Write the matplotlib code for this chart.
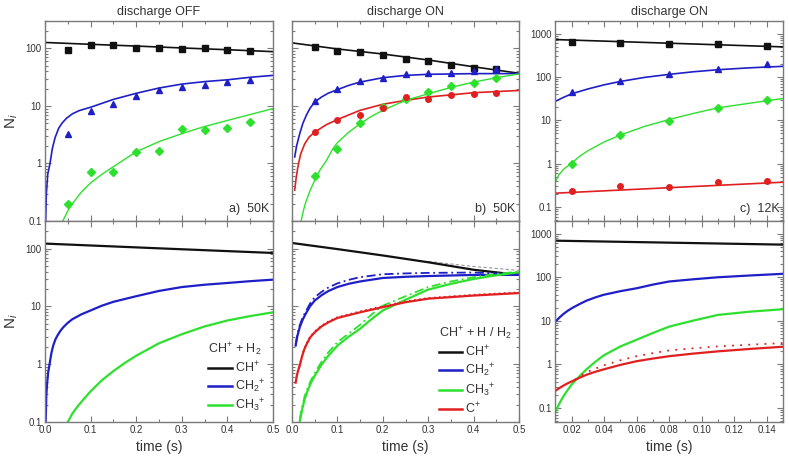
import matplotlib
matplotlib.use("Agg")
import matplotlib.pyplot as plt
from matplotlib.ticker import FixedLocator, LogLocator, MultipleLocator, FuncFormatter, NullFormatter
from matplotlib.lines import Line2D

plt.rcParams["font.family"] = ["Liberation Sans", "DejaVu Sans"]
plt.rcParams["mathtext.fontset"] = "custom"
plt.rcParams["mathtext.rm"] = "Liberation Sans"
plt.rcParams["mathtext.it"] = "Liberation Sans:italic"

BLACK = "#111111"
BLUE = "#1f1fc8"
GREEN = "#2ee02e"
RED = "#e02020"
SPINE = "#7a7a7a"
TXT = "#333333"

# ---------------------------------------------------------------- data
# a) discharge OFF, 50K  (measured points + fit)
t_pts_a = [0.05, 0.10, 0.15, 0.20, 0.25, 0.30, 0.35, 0.40, 0.45]
ch_pts_a = [93, 114, 114, 103, 102, 99, 100, 94, 90]
ch2_pts_a = [3.2, 8.1, 11, 14.9, 18.7, 21.3, 22.9, 26, 28.5]
ch3_pts_a = [0.2, 0.70, 0.70, 1.57, 1.66, 3.94, 3.8, 4.15, 5.3]

t_ch_fit_a = [0.0, 0.1, 0.2, 0.3, 0.4, 0.5]
ch_fit_a = [127, 118, 110, 102, 95, 88]
t_ch2_fit_a = [0.0015, 0.003, 0.006, 0.011, 0.016, 0.022, 0.03, 0.038, 0.047, 0.06,
               0.075, 0.1, 0.15, 0.2, 0.25, 0.3, 0.35, 0.4, 0.45, 0.5]
ch2_fit_a = [0.1, 0.3, 0.65, 1.0, 1.8, 2.8, 4.1, 5.1, 6.1, 7.3,
             8.3, 9.5, 13, 16.6, 20.5, 24, 26.5, 28.5, 31.5, 34]
t_ch3_fit_a = [0.039, 0.05, 0.06, 0.08, 0.1, 0.125, 0.15, 0.2, 0.25, 0.3, 0.35, 0.4, 0.45, 0.5]
ch3_fit_a = [0.1, 0.15, 0.2, 0.32, 0.46, 0.65, 0.88, 1.6, 2.4, 3.3, 4.4, 5.6, 7.1, 9.0]

# b) discharge ON, 50K
t_pts_b = [0.05, 0.10, 0.15, 0.20, 0.25, 0.30, 0.35, 0.40, 0.45]
ch_pts_b = [107, 91, 87.5, 76.6, 66, 61, 51.5, 46.2, 43.8]
ch2_pts_b = [12.4, 19.7, 27, 31, 35.8, 37.3, 36.8, 40, 44]
ch3_pts_b = [0.61, 1.82, 5.1, 9.5, 13, 17.5, 21.8, 25, 31]
c_pts_b = [3.5, 5.6, 7.1, 9.2, 14.3, 13.3, 15.3, 16.3, 17]

t_ch_fit_b = [0.0, 0.1, 0.2, 0.3, 0.4, 0.5]
ch_fit_b = [125, 98, 80, 63, 48, 37]
t_ch2_fit_b = [0.006, 0.01, 0.017, 0.024, 0.032, 0.04, 0.05, 0.065, 0.08, 0.1,
               0.125, 0.15, 0.2, 0.25, 0.3, 0.4, 0.5]
ch2_fit_b = [1.3, 2.0, 3.3, 5.0, 7.0, 9.2, 11.7, 14.3, 16.7, 19.2,
             22.8, 26, 31, 34, 35.5, 36.5, 36.5]
t_ch3_fit_b = [0.02, 0.025, 0.03, 0.04, 0.05, 0.062, 0.075, 0.09, 0.1, 0.125, 0.15,
               0.175, 0.2, 0.25, 0.3, 0.35, 0.4, 0.45, 0.5]
ch3_fit_b = [0.1, 0.15, 0.21, 0.34, 0.51, 0.78, 1.1, 1.8, 2.3, 3.5, 4.9,
             6.6, 8.4, 12.5, 16.3, 21, 26, 31, 36]
t_c_fit_b = [0.006, 0.009, 0.013, 0.019, 0.028, 0.038, 0.05, 0.075, 0.1, 0.15, 0.2,
             0.25, 0.3, 0.4, 0.5]
c_fit_b = [0.345, 0.55, 0.875, 1.45, 2.2, 2.9, 3.5, 4.7, 5.8, 8.4, 10.7,
           12.5, 14.3, 17, 18.6]

# c) discharge ON, 12K
t_pts_c = [0.02, 0.05, 0.08, 0.11, 0.14]
ch_pts_c = [643, 610, 589, 570, 512]
ch2_pts_c = [45, 79, 119, 150, 195]
ch3_pts_c = [1.0, 4.6, 9.5, 19.5, 30]
c_pts_c = [0.23, 0.30, 0.29, 0.39, 0.40]

t_ch_fit_c = [0.01, 0.08, 0.15]
ch_fit_c = [728, 600, 494]
t_ch2_fit_c = [0.01, 0.015, 0.02, 0.03, 0.04, 0.05, 0.065, 0.08, 0.095, 0.11, 0.13, 0.15]
ch2_fit_c = [27.6, 34, 41, 53, 66, 79, 98, 115, 132, 147, 163, 176]
t_ch3_fit_c = [0.01, 0.012, 0.015, 0.02, 0.025, 0.03, 0.04, 0.05, 0.065, 0.08,
               0.095, 0.11, 0.13, 0.15]
ch3_fit_c = [0.39, 0.55, 0.75, 1.04, 1.5, 2.0, 3.2, 4.6, 7.3, 10.5,
             14.5, 19.5, 25, 32]
t_c_fit_c = [0.01, 0.15]
c_fit_c = [0.21, 0.376]

# model curves, CH+ + H2 (bottom a)
t_ch_mod_a = [0.0, 0.25, 0.5]
ch_mod_a = [122, 101, 84]
t_ch2_mod_a = [0.0015, 0.003, 0.005, 0.007, 0.01, 0.014, 0.018, 0.023, 0.028, 0.034, 0.04,
               0.05, 0.06, 0.08, 0.1, 0.125, 0.15, 0.2, 0.25, 0.3, 0.35, 0.4, 0.45, 0.5]
ch2_mod_a = [0.1, 0.3, 0.5, 0.72, 1.0, 1.55, 2.1, 2.7, 3.2, 3.8, 4.35,
             5.2, 6.0, 7.3, 8.5, 10.3, 12, 15, 18.5, 21.6, 23.7, 25.4, 27.3, 29]
t_ch3_mod_a = [0.05, 0.06, 0.07, 0.085, 0.1, 0.125, 0.15, 0.175, 0.2, 0.25, 0.3, 0.35, 0.4,
               0.45, 0.5]
ch3_mod_a = [0.1, 0.14, 0.18, 0.25, 0.34, 0.53, 0.76, 1.05, 1.4, 2.3, 3.3, 4.5, 5.7,
             6.8, 7.9]

# model curves, CH+ + H / H2 (bottom b)
t_ch_mod_b = [0.0, 0.1, 0.2, 0.3, 0.4, 0.5]
ch_mod_b = [125, 98, 76, 58, 43, 35]
t_ch_alt_b = [0.3, 0.4, 0.5]
ch_alt_b = [60, 49, 42]
t_ch2_mod_b = [0.008, 0.012, 0.017, 0.024, 0.032, 0.04, 0.05, 0.065, 0.08, 0.1,
               0.125, 0.15, 0.2, 0.25, 0.3, 0.4, 0.5]
ch2_mod_b = [2.1, 3.1, 4.35, 6.0, 7.9, 10.1, 12.6, 15.6, 18.4, 21.6,
             24.6, 27, 31, 32.5, 33.5, 35, 35]
ch2_alt_b = [2.2, 3.3, 4.7, 6.6, 8.6, 11.3, 14.4, 17.8, 21.2, 25,
             28.8, 32, 36, 37.2, 38, 38.5, 36]
t_ch3_mod_b = [0.017, 0.022, 0.028, 0.035, 0.042, 0.05, 0.065, 0.08, 0.1, 0.125, 0.15,
               0.175, 0.2, 0.25, 0.3, 0.35, 0.4, 0.45, 0.5]
ch3_mod_b = [0.1, 0.16, 0.25, 0.36, 0.48, 0.63, 0.98, 1.4, 2.09, 3.0, 4.1,
             6.0, 8.5, 13, 19.5, 24.5, 29.8, 34.5, 39]
ch3_alt_b = [0.11, 0.18, 0.28, 0.4, 0.53, 0.7, 1.1, 1.6, 2.4, 3.4, 4.8,
             7.2, 10.3, 15, 21.6, 27, 32, 36.5, 40]
t_c_mod_b = [0.008, 0.011, 0.014, 0.017, 0.022, 0.027, 0.032, 0.04, 0.05, 0.065, 0.08, 0.1,
             0.15, 0.2, 0.25, 0.3, 0.4, 0.5]
c_mod_b = [0.48, 0.65, 0.8, 0.94, 1.35, 1.8, 2.2, 2.9, 3.56, 4.5, 5.3, 6.3,
           7.9, 9.7, 11.8, 13.6, 15.4, 17]
c_alt_b = [0.5, 0.68, 0.84, 0.98, 1.4, 1.88, 2.3, 3.0, 3.7, 4.65, 5.5, 6.5,
           8.2, 10.1, 12.2, 14.0, 15.9, 17.5]

# model curves, 12K (bottom c)
t_ch_mod_c = [0.01, 0.15]
ch_mod_c = [690, 560]
t_mod_c = [0.01, 0.0125, 0.015, 0.0175, 0.02, 0.025, 0.029, 0.0345, 0.0395, 0.05, 0.06, 0.07,
           0.08, 0.095, 0.11, 0.13, 0.15]
ch2_mod_c = [9.65, 12, 14.5, 17, 19.5, 24.5, 29, 34.5, 39.5, 48, 56, 68,
             80, 90, 100, 110, 120]
ch3_mod_c = [0.084, 0.13, 0.19, 0.26, 0.35, 0.55, 0.77, 1.15, 1.6, 2.6, 3.7, 5.3,
             7.4, 10.2, 13.7, 16.3, 18.5]
c_mod_c = [0.25, 0.29, 0.33, 0.37, 0.41, 0.5, 0.58, 0.68, 0.77, 0.98, 1.19, 1.37,
           1.55, 1.78, 2.0, 2.28, 2.55]
t_c_alt_c = [0.022, 0.029, 0.0395, 0.05, 0.06, 0.07, 0.08, 0.095, 0.11, 0.13, 0.15]
c_alt_c = [0.45, 0.66, 0.95, 1.25, 1.55, 1.82, 2.1, 2.35, 2.6, 2.85, 3.1]

TITLES = ["discharge OFF", "discharge ON", "discharge ON"]
PANEL_TAGS = ["a)  50K", "b)  50K", "c)  12K"]


# ---------------------------------------------------------------- helpers
def _fmt(v, pos):
    return f"{v:g}"


def _style(ax, xlim, ylim, x_major, x_minor, y_majors, show_x, show_y, xfmt):
    ax.set_yscale("log")
    ax.set_xlim(*xlim)
    ax.set_ylim(*ylim)
    ax.xaxis.set_major_locator(MultipleLocator(x_major))
    ax.xaxis.set_minor_locator(MultipleLocator(x_minor))
    ax.yaxis.set_major_locator(FixedLocator(y_majors))
    ax.yaxis.set_minor_locator(LogLocator(base=10, subs=range(2, 10)))
    ax.yaxis.set_minor_formatter(NullFormatter())
    ax.yaxis.set_major_formatter(FuncFormatter(_fmt) if show_y else NullFormatter())
    ax.xaxis.set_major_formatter(FuncFormatter(xfmt) if show_x else NullFormatter())
    ax.tick_params(which="both", direction="in", top=True, right=True,
                   colors=SPINE, labelcolor=TXT, labelsize=7, width=0.8, pad=2.5)
    ax.tick_params(which="major", length=4)
    ax.tick_params(which="minor", length=2)
    for s in ax.spines.values():
        s.set_color(SPINE)
        s.set_linewidth(1.0)


def _legend(ax, colors, labels, title, anchor):
    handles = [Line2D([], [], color=c, lw=1.8) for c in colors]
    leg = ax.legend(handles, labels, title=title, loc="lower right",
                    bbox_to_anchor=anchor, frameon=False, fontsize=9,
                    title_fontsize=9, handlelength=1.9, handletextpad=0.25,
                    labelspacing=0.2, borderaxespad=0.2, alignment="left")
    for t in leg.get_texts():
        t.set_color(TXT)
    leg.get_title().set_color(TXT)


# ---------------------------------------------------------------- figure
fig = plt.figure(figsize=(7.89, 4.58), dpi=100)
W, H = 789, 458
cols = [(45, 273), (292, 519), (555, 783)]
rows = [(21, 221), (221, 422)]
axes = {}
for r, (y0, y1) in enumerate(rows):
    for c, (x0, x1) in enumerate(cols):
        axes[(r, c)] = fig.add_axes([x0 / W, 1 - y1 / H, (x1 - x0) / W, (y1 - y0) / H])

ab_y = (0.1, 300)
c_y = (0.048, 1950)
ab_major = [0.1, 1, 10, 100]
c_major = [0.1, 1, 10, 100, 1000]
fmt1 = lambda v, p: f"{v:.1f}"
fmt2 = lambda v, p: f"{v:.2f}"

# --- top a
ax = axes[(0, 0)]
ax.plot(t_ch_fit_a, ch_fit_a, color=BLACK, lw=1.2)
ax.plot(t_ch2_fit_a, ch2_fit_a, color=BLUE, lw=1.2)
ax.plot(t_ch3_fit_a, ch3_fit_a, color=GREEN, lw=1.0)
ax.plot(t_pts_a, ch_pts_a, "s", color=BLACK, ms=4)
ax.plot(t_pts_a, ch2_pts_a, "^", color=BLUE, ms=4.5)
ax.plot(t_pts_a, ch3_pts_a, "D", color=GREEN, ms=4)
_style(ax, (0, 0.5), ab_y, 0.1, 0.05, ab_major, False, True, fmt1)

# --- top b
ax = axes[(0, 1)]
ax.plot(t_ch_fit_b, ch_fit_b, color=BLACK, lw=1.2)
ax.plot(t_ch2_fit_b, ch2_fit_b, color=BLUE, lw=1.2)
ax.plot(t_c_fit_b, c_fit_b, color=RED, lw=1.2)
ax.plot(t_ch3_fit_b, ch3_fit_b, color=GREEN, lw=1.0)
ax.plot(t_pts_b, ch_pts_b, "s", color=BLACK, ms=4)
ax.plot(t_pts_b, ch2_pts_b, "^", color=BLUE, ms=4.5)
ax.plot(t_pts_b, ch3_pts_b, "D", color=GREEN, ms=4)
ax.plot(t_pts_b, c_pts_b, "o", color=RED, ms=4)
_style(ax, (0, 0.5), ab_y, 0.1, 0.05, ab_major, False, False, fmt1)

# --- top c
ax = axes[(0, 2)]
ax.plot(t_ch_fit_c, ch_fit_c, color=BLACK, lw=1.2)
ax.plot(t_ch2_fit_c, ch2_fit_c, color=BLUE, lw=1.2)
ax.plot(t_ch3_fit_c, ch3_fit_c, color=GREEN, lw=1.0)
ax.plot(t_c_fit_c, c_fit_c, color=RED, lw=1.2)
ax.plot(t_pts_c, ch_pts_c, "s", color=BLACK, ms=4)
ax.plot(t_pts_c, ch2_pts_c, "^", color=BLUE, ms=4.5)
ax.plot(t_pts_c, ch3_pts_c, "D", color=GREEN, ms=4)
ax.plot(t_pts_c, c_pts_c, "o", color=RED, ms=4)
_style(ax, (0.0097, 0.15), c_y, 0.02, 0.01, c_major, False, True, fmt2)

# --- bottom a
ax = axes[(1, 0)]
ax.plot(t_ch_mod_a, ch_mod_a, color=BLACK, lw=1.6)
ax.plot(t_ch2_mod_a, ch2_mod_a, color=BLUE, lw=1.6)
ax.plot(t_ch3_mod_a, ch3_mod_a, color=GREEN, lw=1.6)
_style(ax, (0, 0.5), ab_y, 0.1, 0.05, ab_major, True, True, fmt1)
_legend(ax, [BLACK, BLUE, GREEN],
        [r"CH$^{+}$", r"CH$_2$$^{+}$", r"CH$_3$$^{+}$"],
        r"CH$^{+}$ + H$_2$", (1.0, 0.0))

# --- bottom b
ax = axes[(1, 1)]
ax.plot(t_ch_alt_b, ch_alt_b, color="#999999", lw=0.8, ls=(0, (3, 2)))
ax.plot(t_ch_mod_b, ch_mod_b, color=BLACK, lw=1.6)
ax.plot(t_ch2_mod_b, ch2_alt_b, color=BLUE, lw=1.3, ls=(0, (5, 2, 1, 2)))
ax.plot(t_ch2_mod_b, ch2_mod_b, color=BLUE, lw=1.6)
ax.plot(t_ch3_mod_b, ch3_alt_b, color=GREEN, lw=1.3, ls=(0, (5, 2, 1, 2)))
ax.plot(t_ch3_mod_b, ch3_mod_b, color=GREEN, lw=1.6)
ax.plot(t_c_mod_b, c_alt_b, color=RED, lw=1.2, ls=(0, (1, 2)))
ax.plot(t_c_mod_b, c_mod_b, color=RED, lw=1.6)
_style(ax, (0, 0.5), ab_y, 0.1, 0.05, ab_major, True, False, fmt1)
_legend(ax, [BLACK, BLUE, GREEN, RED],
        [r"CH$^{+}$", r"CH$_2$$^{+}$", r"CH$_3$$^{+}$", r"C$^{+}$"],
        r"CH$^{+}$ + H / H$_2$", (1.0, -0.01))

# --- bottom c
ax = axes[(1, 2)]
ax.plot(t_ch_mod_c, ch_mod_c, color=BLACK, lw=1.6)
ax.plot(t_mod_c, ch2_mod_c, color=BLUE, lw=1.6)
ax.plot(t_mod_c, ch3_mod_c, color=GREEN, lw=1.6)
ax.plot(t_c_alt_c, c_alt_c, color=RED, lw=1.3, ls=(0, (1, 3.5)))
ax.plot(t_mod_c, c_mod_c, color=RED, lw=1.6)
_style(ax, (0.0097, 0.15), c_y, 0.02, 0.01, c_major, True, True, fmt2)

# titles, tags, labels
for c in range(3):
    axes[(0, c)].set_title(TITLES[c], fontsize=9, color=TXT, pad=4)
    axes[(0, c)].text(0.985, 0.03, PANEL_TAGS[c], transform=axes[(0, c)].transAxes,
                      ha="right", va="bottom", fontsize=9, color=TXT)
    axes[(1, c)].set_xlabel("time (s)", fontsize=10, color=TXT, labelpad=3)
for r in range(2):
    axes[(r, 0)].set_ylabel(r"N$_i$", fontsize=11, color=TXT)
    axes[(r, 0)].yaxis.set_label_coords(-0.11, 0.5)

fig.savefig("out.png", dpi=100)
plt.close(fig)
